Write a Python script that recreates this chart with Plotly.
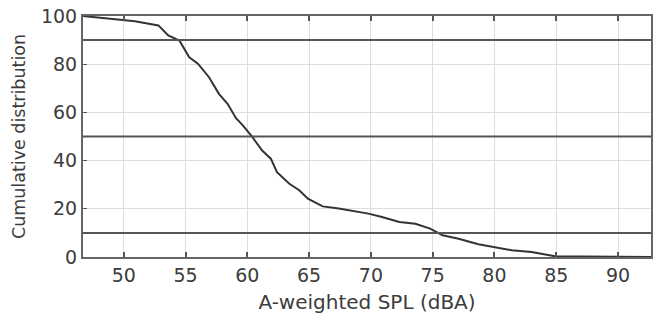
import plotly.graph_objects as go

spl_dba = [46.7, 50.0, 50.9, 52.8, 53.6, 54.5, 55.3, 56.0, 56.9, 57.7, 58.4, 59.1,
           59.6, 60.4, 61.2, 61.9, 62.4, 63.4, 64.2, 64.9, 66.1, 67.4, 69.8, 70.9,
           72.3, 73.6, 74.8, 75.8, 77.1, 78.7, 80.1, 81.4, 83.0, 84.1, 84.9, 87.3, 92.7]
cumulative = [100, 98.4, 97.8, 96.1, 91.9, 89.8, 82.9, 80.2, 74.6, 67.7, 63.6, 57.5,
              54.8, 49.8, 44.2, 40.8, 35.2, 30.4, 27.7, 24.2, 21.0, 20.1, 18.0, 16.6,
              14.5, 13.8, 11.8, 9.0, 7.6, 5.3, 4.1, 2.8, 2.1, 1.1, 0.3, 0.2, 0.0]
threshold_levels = [10, 50, 90]
x_ticks = [50, 55, 60, 65, 70, 75, 80, 85, 90]
y_ticks = [0, 20, 40, 60, 80, 100]

FONT = "DejaVu Sans, Liberation Sans, Arial, sans-serif"
TXT = "#3c3c3c"

fig = go.Figure()
for lvl in threshold_levels:
    fig.add_hline(y=lvl, line=dict(color="#555555", width=2), layer="above")

fig.add_trace(go.Scatter(x=spl_dba, y=cumulative, mode="lines",
                         line=dict(color="#333333", width=2), showlegend=False))

fig.update_layout(
    width=653, height=320,
    margin=dict(l=83, r=0, t=16, b=63),
    paper_bgcolor="white", plot_bgcolor="white",
    font=dict(family=FONT, color=TXT, size=19),
)
fig.update_xaxes(
    range=[46.7, 92.67], tickvals=x_ticks, ticks="inside", ticklen=5, tickwidth=2,
    tickcolor="#555555", showline=True, linecolor="#666666", linewidth=2, mirror="ticks",
    showgrid=True, gridcolor="#dddddd", gridwidth=1, zeroline=False,
    tickfont=dict(size=19, color=TXT), ticklabeloverflow="allow",
    title=dict(text="A-weighted SPL (dBA)", font=dict(size=20, color=TXT), standoff=10),
)
fig.update_yaxes(
    range=[0, 100], tickvals=y_ticks, ticks="inside", ticklen=4, tickwidth=1,
    tickcolor="#555555", showline=True, linecolor="#666666", linewidth=2, mirror=True,
    showgrid=True, gridcolor="#dddddd", gridwidth=1, zeroline=False,
    tickfont=dict(size=19, color=TXT), ticklabeloverflow="allow",
    title=dict(text="Cumulative distribution", font=dict(size=17.5, color=TXT), standoff=11),
)

fig.write_html("out.html", config={"displayModeBar": False},
               post_script="document.body.style.margin='0';")
